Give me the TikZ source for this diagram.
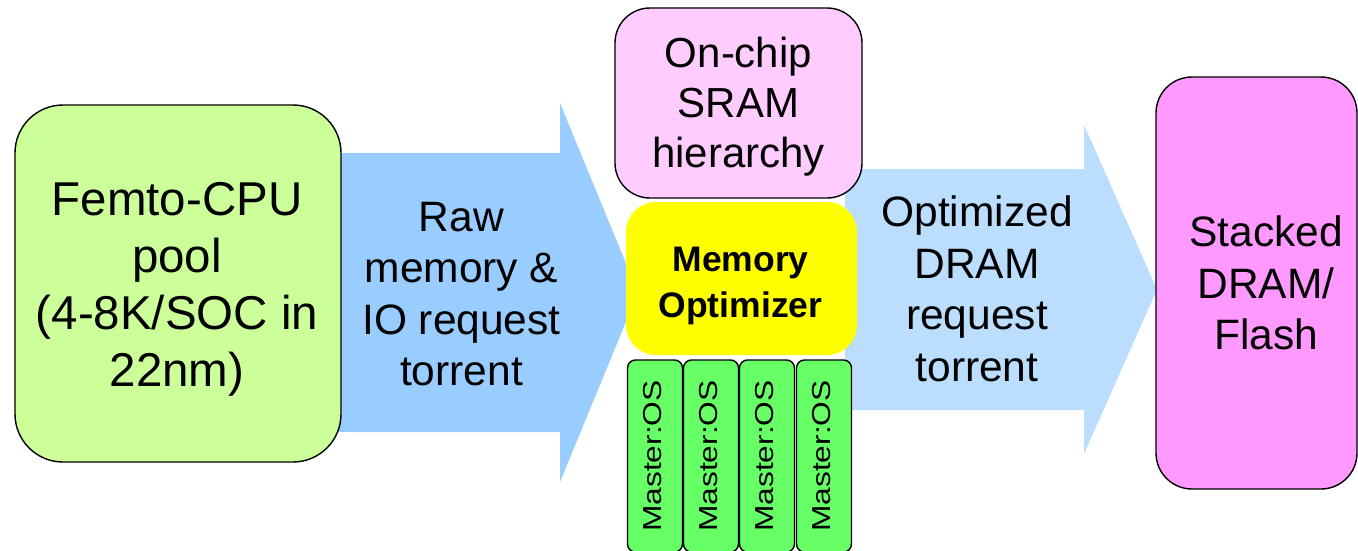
\documentclass[tikz,border=0pt]{standalone}
\usepackage{fontspec}
\setmainfont{Liberation Sans}
\definecolor{cpugreen}{HTML}{CCFF99}
\definecolor{rawblue}{HTML}{99CCFF}
\definecolor{optblue}{HTML}{BBDEFF}
\definecolor{srampink}{HTML}{FFCCFF}
\definecolor{optyellow}{HTML}{FFFF00}
\definecolor{osgreen}{HTML}{66FF66}
\definecolor{drampink}{HTML}{FF99FF}
\begin{document}
\begin{tikzpicture}[x=1pt,y=-1pt,
  roundbox/.style={draw=black, line width=1.4pt, inner sep=0pt, rounded corners=#1},
  plainbox/.style={inner sep=0pt, rounded corners=#1},
  lbl/.style={inner sep=0pt, align=center},
  bigtext/.style={lbl, font=\fontsize{47.5}{57}\selectfont},
  midtext/.style={lbl, font=\fontsize{42.5}{51.5}\selectfont},
  sramtext/.style={lbl, font=\fontsize{42}{50}\selectfont},
  opttext/.style={lbl, font=\bfseries\fontsize{35.5}{46}\selectfont},
  ostext/.style={inner sep=0pt, font=\fontsize{26}{30}\selectfont, rotate=90},
  oscol/.style={roundbox=8, fill=osgreen, minimum width=55, minimum height=192}
]
\useasboundingbox (0,0) rectangle (1358,551);

% block arrows (drawn first, so the boxes sit on top of them)
\fill[rawblue] (330,153) -- (560,153) -- (560,103) -- (638,292.5)
  -- (560,482) -- (560,432) -- (330,432) -- cycle;
\fill[optblue] (845,169) -- (1084,169) -- (1084,125) -- (1157,289.5)
  -- (1084,454) -- (1084,410) -- (845,410) -- cycle;

% arrow labels
\node[midtext] (rawlbl) at (461.5,294) {Raw\\memory \&\\IO request\\torrent};
\node[midtext] (optlbl) at (977,289) {Optimized\\DRAM\\request\\torrent};

% CPU pool
\node[roundbox=48, fill=cpugreen, minimum width=326, minimum height=357]
  (cpu) at (178,283.5) {};
\node[bigtext] (cpulbl) at (177,289) {Femto-CPU\\pool\\(4-8K/SOC in\\22nm)};

% on-chip SRAM
\node[roundbox=35, fill=srampink, minimum width=247, minimum height=190]
  (sram) at (738.5,103) {};
\node[sramtext] (sramlbl) at (738.5,107) {On-chip\\SRAM\\hierarchy};

% memory optimizer
\node[plainbox=30, fill=optyellow, minimum width=231, minimum height=153]
  (memopt) at (741.5,278.5) {};
\node[opttext] (memoptlbl) at (740.5,286) {Memory\\Optimizer};

% master OS columns
\node[oscol] (os1) at (655,456) {};
\node[oscol] (os2) at (711,456) {};
\node[oscol] (os3) at (767,456) {};
\node[oscol] (os4) at (824,456) {};
\node[ostext] (os1t) at (652.5,456) {\scalebox{1.22}[1]{Master:OS}};
\node[ostext] (os2t) at (708.5,456) {\scalebox{1.22}[1]{Master:OS}};
\node[ostext] (os3t) at (764.5,456) {\scalebox{1.22}[1]{Master:OS}};
\node[ostext] (os4t) at (821.5,456) {\scalebox{1.22}[1]{Master:OS}};

% stacked DRAM / flash
\node[roundbox=36, fill=drampink, minimum width=201, minimum height=412]
  (dram) at (1256.5,283) {};
\node[midtext] (dramlbl) at (1266,283) {Stacked\\DRAM/\\Flash};
\end{tikzpicture}
\end{document}
